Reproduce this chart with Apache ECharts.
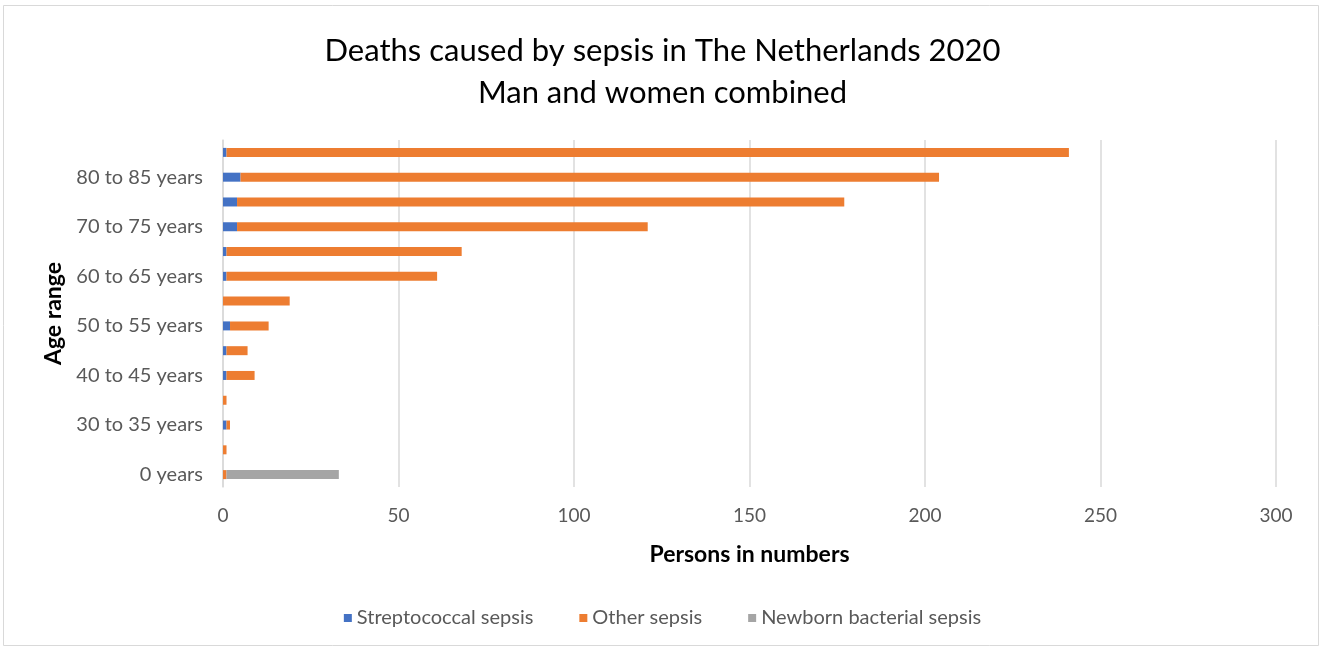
<!DOCTYPE html>
<html>
<head>
<meta charset="utf-8">
<script src="https://cdn.jsdelivr.net/npm/echarts@6/dist/echarts.min.js"></script>
<style>
  html, body { margin: 0; padding: 0; background: #fff; }
  #main { width: 1325px; height: 648px; }
</style>
</head>
<body>
<div id="main"></div>
<script>
// categories, bottom to top
const ageRanges = [
  '0 years', '25 to 30 years', '30 to 35 years', '35 to 40 years',
  '40 to 45 years', '45 to 50 years', '50 to 55 years', '55 to 60 years',
  '60 to 65 years', '65 to 70 years', '70 to 75 years', '75 to 80 years',
  '80 to 85 years', '85 to 90 years'
]
const streptococcal = [0, 0, 1, 0, 1, 1, 2, 0, 1, 1, 4, 4, 5, 1]
const otherSepsis = [1, 1, 1, 1, 8, 6, 11, 19, 60, 67, 117, 173, 199, 240]
const newbornSepsis = [32, 0, 0, 0, 0, 0, 0, 0, 0, 0, 0, 0, 0, 0]

const FONT = 'Lato'
const chart = echarts.init(document.getElementById('main'))

const barSeries = function(name, data, color) {
  return {
    name: name,
    type: 'bar',
    stack: 'total',
    barWidth: 9,
    data: data,
    itemStyle: { color: color },
    emphasis: { disabled: true },
  }
}

chart.setOption({
  backgroundColor: '#fff',
  animation: false,
  textStyle: { fontFamily: FONT },
  graphic: [
    {
      type: 'rect',
      shape: { x: 3.5, y: 5.5, width: 1315, height: 640 },
      style: { fill: 'none', stroke: '#d9d9d9', lineWidth: 1 },
      silent: true,
    },
  ],
  title: {
    text: 'Deaths caused by sepsis in The Netherlands 2020\nMan and women combined',
    left: 'center',
    top: 25,
    textStyle: {
      fontFamily: FONT,
      fontSize: 31,
      fontWeight: 'normal',
      color: '#000',
      lineHeight: 42,
    },
  },
  legend: {
    top: 603,
    left: 'center',
    itemWidth: 8,
    itemHeight: 8,
    itemGap: 46,
    icon: 'rect',
    textStyle: { fontFamily: FONT, fontSize: 20, color: '#595959' },
    data: ['Streptococcal sepsis', 'Other sepsis', 'Newborn bacterial sepsis'],
  },
  grid: {
    left: 223,
    right: 49,
    top: 140,
    height: 347,
    containLabel: false,
  },
  xAxis: {
    type: 'value',
    min: 0,
    max: 300,
    interval: 50,
    name: 'Persons in numbers',
    nameLocation: 'middle',
    nameGap: 56,
    nameTextStyle: { fontFamily: FONT, fontSize: 23, fontWeight: 'bold', color: '#000' },
    axisLine: { show: false },
    axisTick: { show: false },
    axisLabel: { fontSize: 19, color: '#595959', margin: 19 },
    splitLine: { lineStyle: { color: '#d9d9d9', width: 1.5 } },
  },
  yAxis: {
    type: 'category',
    data: ageRanges,
    name: 'Age range',
    nameLocation: 'middle',
    nameRotate: 90,
    nameGap: 156,
    nameTextStyle: { fontFamily: FONT, fontSize: 23, fontWeight: 'bold', color: '#000' },
    axisLine: { show: true, lineStyle: { color: '#d9d9d9', width: 1.5 } },
    axisTick: { show: false },
    axisLabel: { interval: 1, fontSize: 20, color: '#595959', margin: 20 },
  },
  series: [
    barSeries('Streptococcal sepsis', streptococcal, '#4472c4'),
    barSeries('Other sepsis', otherSepsis, '#ed7d31'),
    barSeries('Newborn bacterial sepsis', newbornSepsis, '#a5a5a5'),
  ],
})
</script>
</body>
</html>
